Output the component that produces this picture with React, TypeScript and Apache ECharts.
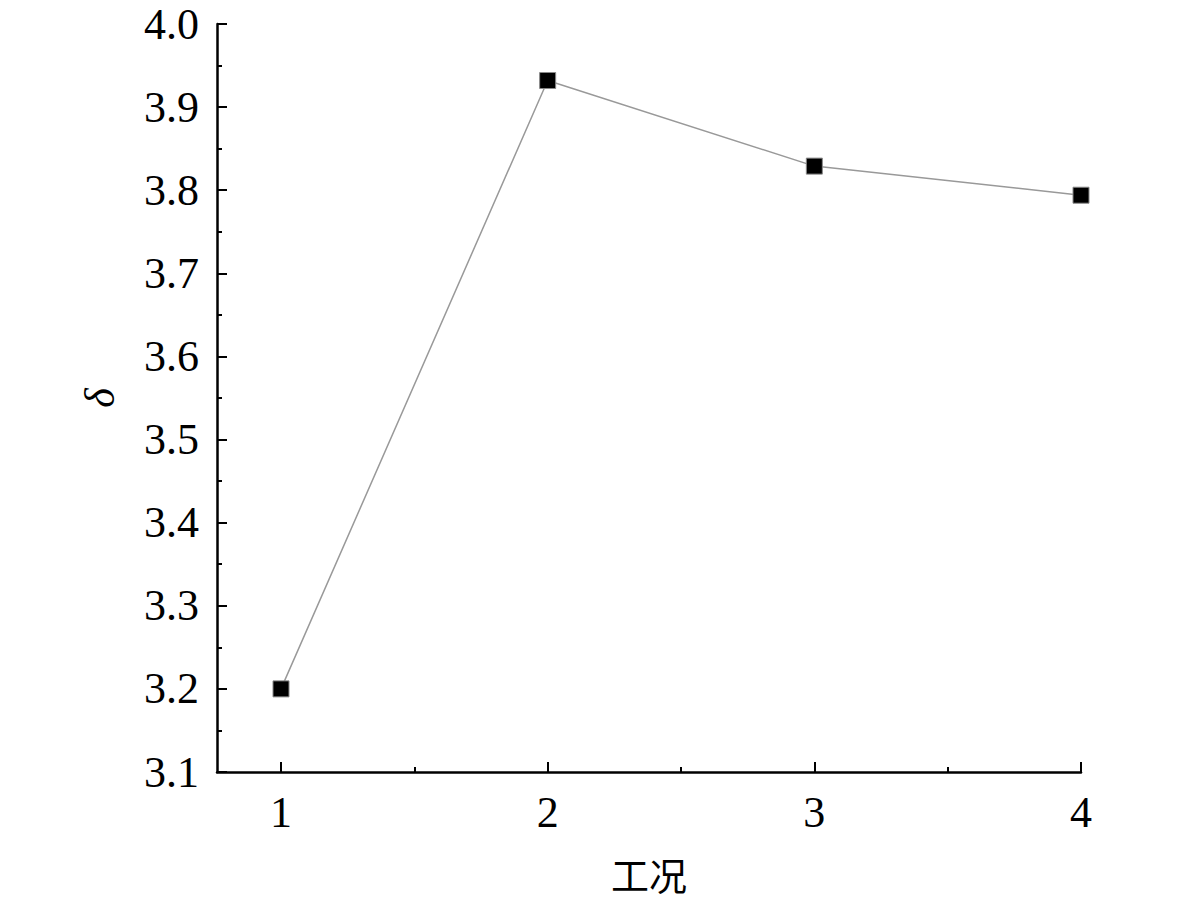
import React, { useEffect, useRef } from "react";
import * as echarts from "echarts";

const xValues = [1, 2, 3, 4];
const deltaValues = [3.2, 3.932, 3.829, 3.794];
const xTickValues = [1, 2, 3, 4];
const xMinorTickValues = [1.5, 2.5, 3.5];
const xAxisName = "工况";
const yAxisName = "δ";

export default function App() {
  const ref = useRef<HTMLDivElement>(null);
  useEffect(() => {
    if (!ref.current) return;
    const chart = echarts.init(ref.current, undefined, { renderer: "svg" });
    const serif = "Liberation Serif";
    chart.setOption({
      animation: false,
      backgroundColor: "#ffffff",
      grid: { left: 217, right: 100, top: 24, bottom: 130, containLabel: false },
      xAxis: [
        {
          type: "value",
          min: 0.76,
          max: 4,
          name: xAxisName,
          nameLocation: "middle",
          nameGap: 82,
          nameTextStyle: { fontFamily: "Noto Sans CJK SC", fontSize: 38, lineHeight: 38, color: "#000" },
          axisLine: { show: true, lineStyle: { color: "#000", width: 2.5 } },
          axisTick: { show: true, inside: true, length: 10, lineStyle: { color: "#000", width: 2 }, customValues: xTickValues },
          axisLabel: {
            show: true,
            margin: 20,
            fontFamily: serif,
            fontSize: 44,
            lineHeight: 40,
            color: "#000",
            customValues: xTickValues,
            formatter: (v: number) => String(v),
          },
          splitLine: { show: false },
        },
        {
          type: "value",
          min: 0.76,
          max: 4,
          position: "bottom",
          axisLine: { show: false },
          axisTick: { show: true, inside: true, length: 5, lineStyle: { color: "#000", width: 2 }, customValues: xMinorTickValues },
          axisLabel: { show: false },
          splitLine: { show: false },
        },
      ],
      yAxis: {
        type: "value",
        min: 3.1,
        max: 4.0,
        interval: 0.1,
        name: yAxisName,
        nameLocation: "middle",
        nameGap: 96,
        nameTextStyle: { fontFamily: serif, fontStyle: "italic", fontSize: 42, color: "#000" },
        axisLine: { show: true, lineStyle: { color: "#000", width: 2.5 } },
        axisTick: { show: true, inside: true, length: 10, lineStyle: { color: "#000", width: 2 } },
        minorTick: { show: true, splitNumber: 2, length: 5, lineStyle: { color: "#000", width: 2 } },
        axisLabel: {
          margin: 18,
          fontFamily: serif,
          fontSize: 44,
          lineHeight: 36,
          color: "#000",
          formatter: (v: number) => v.toFixed(1),
        },
        splitLine: { show: false },
        minorSplitLine: { show: false },
      },
      series: [
        {
          type: "line",
          data: xValues.map((x, i) => [x, deltaValues[i]]),
          symbol: "rect",
          symbolSize: 16,
          itemStyle: { color: "#000", borderColor: "#888", borderWidth: 1 },
          lineStyle: { color: "#999", width: 1.5 },
        },
      ],
    });
    return () => chart.dispose();
  }, []);
  return (
    <div
      ref={ref}
      style={{ position: "absolute", left: 0, top: 0, width: 1181, height: 902 }}
    />
  );
}
